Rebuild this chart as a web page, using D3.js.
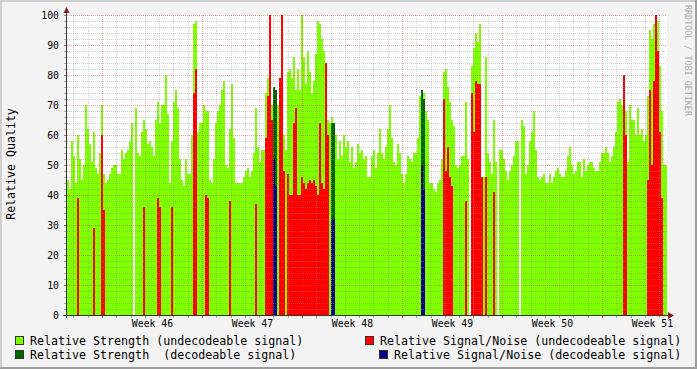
<!DOCTYPE html>
<html><head><meta charset="utf-8">
<script src="https://cdn.jsdelivr.net/npm/d3@7/dist/d3.min.js"></script>
<style>body{margin:0;background:#f3f3f3}svg{display:block}</style>
</head><body><svg id="c" width="697" height="369"></svg>
<script>
// ---- data (one value per step, 300 steps covering 6 weeks) ----
const startTime = Date.UTC(2009, 10, 6, 13, 12); // Nov 6 2009 13:12 UTC
const stepSec = 12096;
const strengthUndecodeable = [
45,42,58,53,44,60,52,45,50,70,62,57,51,61,49,47,54,70,47,44,45,47,49,50,50,
47,47,55,52,54,55,58,64,null,69,54,53,61,65,62,57,58,56,53,65,71,64,70,70,80,
67,44,58,71,75,69,52,45,43,52,47,47,60,97,98,61,64,64,70,68,68,45,44,52,64,
68,70,75,78,50,49,62,77,59,44,44,44,44,46,48,49,46,48,54,69,56,51,55,55,74,
79,66,70,70,70,70,70,65,60,55,81,82,79,86,75,82,75,100,86,77,88,81,74,78,87,
98,97,92,88,84,65,64,66,60,60,52,58,53,60,56,58,51,56,49,51,57,54,55,52,53,
46,46,53,55,49,54,62,54,52,56,62,70,59,51,50,57,54,47,44,47,53,52,51,54,54,
59,73,74,74,68,65,44,44,42,41,44,45,52,81,82,76,71,65,63,50,49,50,53,53,71,
52,null,83,89,94,91,97,null,46,86,54,51,47,65,51,null,55,55,52,48,45,48,50,53,58,
58,null,65,63,47,50,58,61,68,55,46,45,46,47,44,44,47,44,46,48,49,47,46,46,48,
53,56,50,47,48,51,51,46,52,48,50,51,51,49,48,48,51,54,54,56,54,51,53,56,61,
71,72,70,71,68,51,70,65,65,60,69,60,62,58,60,73,95,92,97,100,98,83,68,50,50];
const snrUndecodeableIdx = [5,13,17,18,38,45,46,52,63,64,69,70,81,94,99,100,101,102,106,107,108,
110,111,112,113,114,115,116,117,118,119,120,121,122,123,124,125,126,127,128,129,130,
188,189,190,191,192,199,202,203,204,205,206,207,209,213,278,279,290,291,292,293,294,295,296,297];
const snrUndecodeableVal = [39,29,60,35,36,39,36,36,74,82,40,39,38,37,59,73,100,65,79,100,48,
47,40,40,64,69,40,40,46,44,42,44,45,44,45,43,40,64,44,42,84,60,
72,48,56,46,43,38,74,61,78,77,77,46,46,41,80,60,45,75,50,78,100,88,61,39];
const decodeIdx = [103,104,132,133,177,178];
const strengthDecodeableVal = [76,75,64,64,75,72];
const snrDecodeableVal = [52,43,32,32,50,42];
const weekLabels = ["Week 46","Week 47","Week 48","Week 49","Week 50","Week 51"];
const yTicks = [0,10,20,30,40,50,60,70,80,90,100];
const legendItems = [
  {label:"Relative Strength (undecodeable signal)", color:"#80FF00"},
  {label:"Relative Signal/Noise (undecodeable signal)", color:"#FF0000"},
  {label:"Relative Strength  (decodeable signal)", color:"#006400"},
  {label:"Relative Signal/Noise (decodeable signal)", color:"#00008C"}];

// ---- drawing ----
const svg = d3.select("#c");
const FONT = "DejaVu Sans Mono";
const N = strengthUndecodeable.length;
const tAt = i => new Date(startTime + i*stepSec*1000);
const x = d3.scaleUtc().domain([tAt(0), tAt(N)]).range([67, 667]);
const y = d3.scaleLinear().domain([0, 100]).range([315, 15]);

svg.append("rect").attr("width",697).attr("height",369).attr("fill","#f3f3f3");
svg.append("rect").attr("x",0).attr("y",0).attr("width",697).attr("height",2).attr("fill","#cfcfcf");
svg.append("rect").attr("x",0).attr("y",0).attr("width",2).attr("height",369).attr("fill","#cfcfcf");
svg.append("rect").attr("x",0).attr("y",367).attr("width",697).attr("height",2).attr("fill","#9e9e9e");
svg.append("rect").attr("x",695).attr("y",0).attr("width",2).attr("height",369).attr("fill","#9e9e9e");
svg.append("rect").attr("x",x.range()[0]).attr("y",y(100)).attr("width",x.range()[1]-x.range()[0])
  .attr("height",y(0)-y(100)).attr("fill","#ffffff");

const plot = svg.append("g").attr("shape-rendering","crispEdges");
function bars(idx, vals, color){
  plot.append("g").selectAll("rect").data(idx.map((d,k)=>({i:d,v:vals[k]})).filter(d=>d.v!=null))
    .join("rect")
    .attr("x", d=>x(tAt(d.i)))
    .attr("width", d=>x(tAt(d.i+1))-x(tAt(d.i)))
    .attr("y", d=>y(d.v))
    .attr("height", d=>y(0)-y(d.v))
    .attr("fill", color);
}
bars(d3.range(N), strengthUndecodeable, legendItems[0].color);
bars(snrUndecodeableIdx, snrUndecodeableVal, legendItems[1].color);
bars(decodeIdx, strengthDecodeableVal, legendItems[2].color);
bars(decodeIdx, snrDecodeableVal, legendItems[3].color);

// grid
const grid = svg.append("g").attr("shape-rendering","crispEdges");
const minorC = "rgba(143,143,143,0.4)", majorC = "rgba(222,48,48,0.42)";
const days = d3.utcDay.range(tAt(0), tAt(N));
days.forEach(d=>{
  const major = d.getUTCDay()===1;
  const xx = Math.round(x(d))+0.5;
  grid.append("line").attr("x1",xx).attr("x2",xx).attr("y1",y(100)).attr("y2",y(0))
    .attr("stroke", major?majorC:minorC).attr("stroke-dasharray","1,1");
  grid.append("line").attr("x1",xx).attr("x2",xx).attr("y1",y(0)+1).attr("y2",y(0)+3)
    .attr("stroke", major?"#d06060":"#aaa");
});
d3.range(0,101,2).forEach(v=>{
  const major = v%10===0;
  const yy = Math.round(y(v))+0.5;
  if(v>0) grid.append("line").attr("x1",x.range()[0]).attr("x2",x.range()[1]).attr("y1",yy).attr("y2",yy)
    .attr("stroke", major?majorC:minorC).attr("stroke-dasharray","1,1");
  grid.append("line").attr("x1",x.range()[0]-3).attr("x2",x.range()[0]-1).attr("y1",yy).attr("y2",yy)
    .attr("stroke", major?"#d06060":"#aaa");
});

// axes lines + arrows
svg.append("line").attr("x1",63).attr("x2",670).attr("y1",315.5).attr("y2",315.5).attr("stroke","#333");
svg.append("line").attr("x1",66.5).attr("x2",66.5).attr("y1",318).attr("y2",11).attr("stroke","#333");
svg.append("path").attr("d","M668,312L674,315.5L668,319Z").attr("fill","#7f1f1f");
svg.append("path").attr("d","M63.5,13L66.5,7L69.5,13Z").attr("fill","#7f1f1f");

// x labels (mid-week)
const labelDates = d3.utcMonday.range(tAt(0), tAt(N)).map(d=>new Date(d.getTime()+3.5*86400000));
const xa = svg.append("g").attr("transform","translate(0,315)")
  .call(d3.axisBottom(x).tickValues(labelDates).tickFormat((d,i)=>weekLabels[i]).tickSize(0).tickPadding(5));
xa.select(".domain").remove();
xa.selectAll("text").attr("font-family",FONT).attr("font-size","9.8px").attr("fill","#000");

const ya = svg.append("g").attr("transform","translate(67,0)")
  .call(d3.axisLeft(y).tickValues(yTicks).tickSize(0).tickPadding(8));
ya.select(".domain").remove();
ya.selectAll("text").attr("font-family",FONT).attr("font-size","9.8px").attr("fill","#000");

svg.append("text").attr("transform","translate(15,164) rotate(-90)").attr("text-anchor","middle")
  .attr("font-family",FONT).attr("font-size","11.6px").text("Relative Quality");

svg.append("text").attr("transform","translate(685,5) rotate(90)").attr("text-anchor","start")
  .attr("font-family",FONT).attr("font-size","8.4px").attr("fill","#a8a8a8").text("RRDTOOL / TOBI OETIKER");

const lg = [
  {it:legendItems[0], bx:15.5, tx:30, ty:345},
  {it:legendItems[1], bx:365.5, tx:380, ty:345},
  {it:legendItems[2], bx:15.5, tx:30, ty:359},
  {it:legendItems[3], bx:379.5, tx:394, ty:359}];
lg.forEach(l=>{
  svg.append("rect").attr("x",l.bx).attr("y",l.ty-8.5).attr("width",8).attr("height",8)
    .attr("fill",l.it.color).attr("stroke","#333").attr("stroke-width",1);
  svg.append("text").attr("x",l.tx).attr("y",l.ty).attr("font-family",FONT).attr("font-size","11.65px")
    .style("white-space","pre").text(l.it.label);
});
</script></body></html>
